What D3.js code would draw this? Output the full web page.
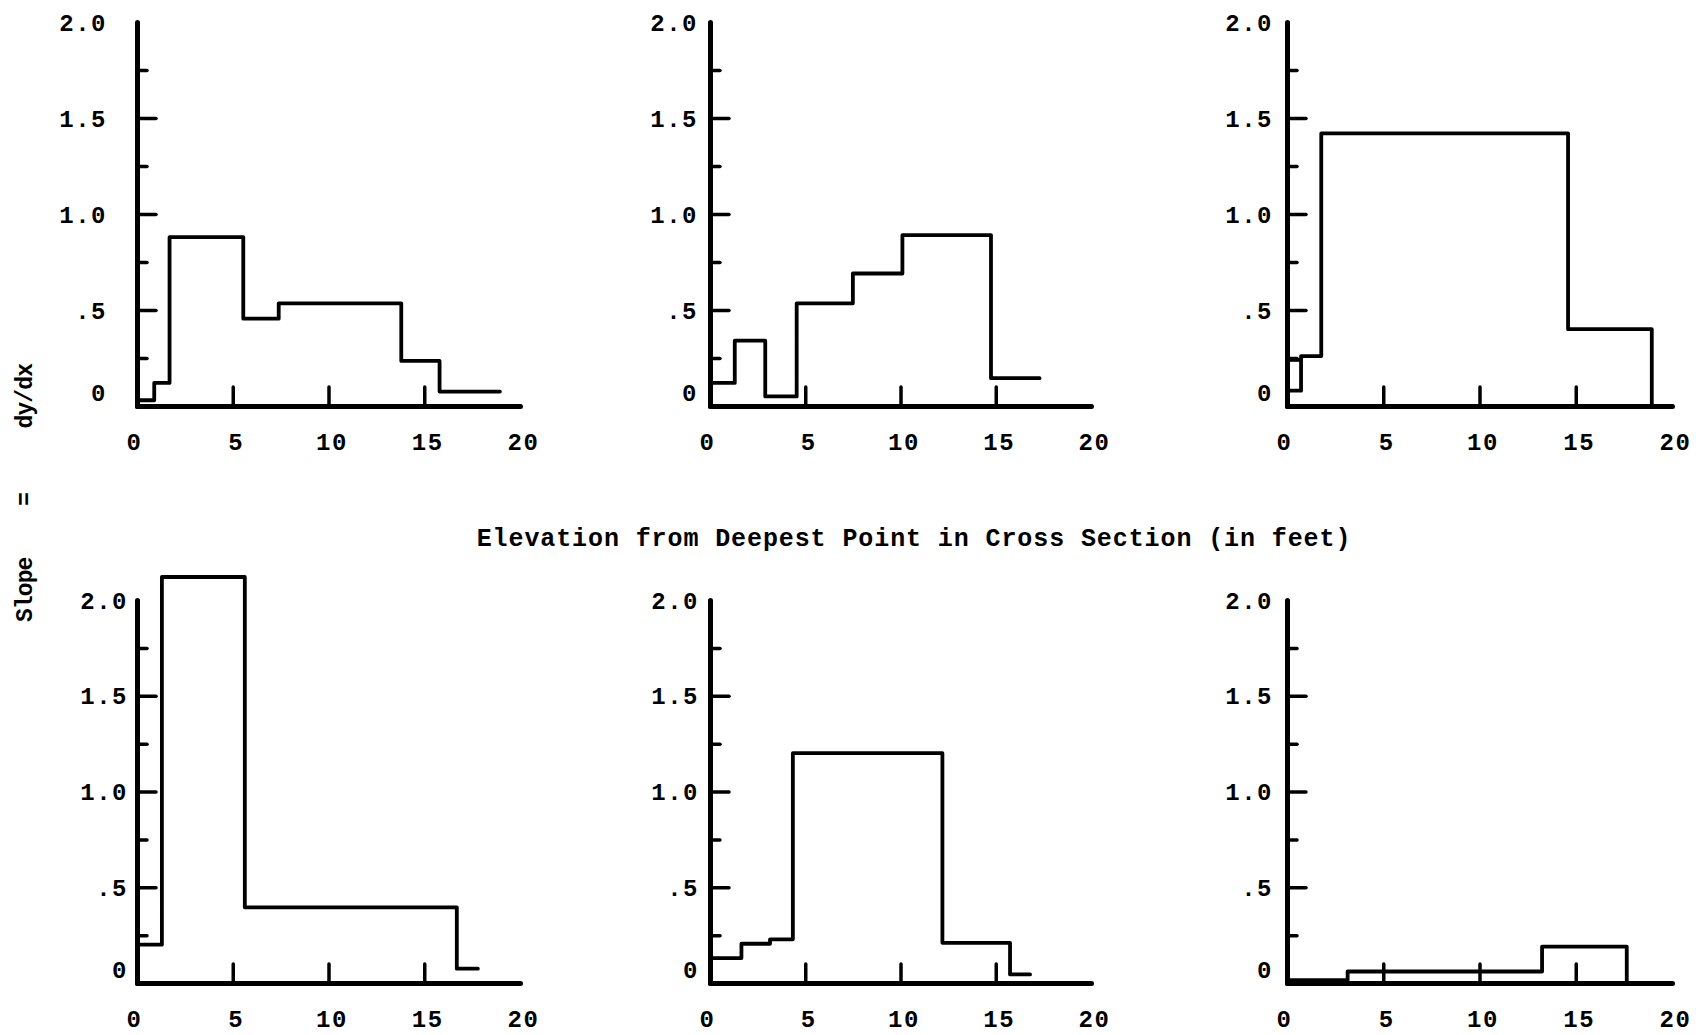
<!DOCTYPE html>
<html>
<head>
<meta charset="utf-8">
<script src="https://cdn.jsdelivr.net/npm/d3@7"></script>
<style>
  html, body { margin: 0; background: #fff; }
  text { font-family: "Liberation Mono", "DejaVu Sans Mono", monospace; font-weight: bold; fill: #000; }
</style>
</head>
<body>
<svg id="fig" width="1696" height="1035"></svg>
<script>
// Axis ticks shared by all six panels
const xTicks = [0, 5, 10, 15, 20];
const yMajor = [0, 0.5, 1.0, 1.5, 2.0];
const yMajorLabels = ["0", ".5", "1.0", "1.5", "2.0"];
const yMinor = [0.25, 0.75, 1.25, 1.75];

// Step profiles: bin edges (elevation, ft) and slope dy/dx within each bin
const edges1 = [0, 0.9, 1.7, 5.55, 7.4, 13.8, 15.8, 18.95];
const slopes1 = [0.03, 0.12, 0.88, 0.455, 0.535, 0.235, 0.075];

const edges2 = [0, 1.3, 2.9, 4.55, 7.5, 10.1, 14.75, 17.3];
const slopes2 = [0.12, 0.34, 0.05, 0.535, 0.69, 0.89, 0.145];

const edges3 = [0, 0.73, 1.78, 14.6, 18.95];
const slopes3 = [0.08, 0.26, 1.42, 0.40];
const cap3 = [[0, 0.24], [0.73, 0.24]];

const edges4 = [0, 1.3, 5.63, 16.7, 17.8];
const slopes4 = [0.2, 2.12, 0.395, 0.075];

const edges5 = [0, 1.65, 3.15, 4.35, 12.2, 15.75, 16.8];
const slopes5 = [0.13, 0.205, 0.228, 1.2, 0.21, 0.045];

const edges6 = [0, 3.15, 13.25, 17.65];
const slopes6 = [0.015, 0.06, 0.19];

const panels = [
  { edges: edges1, slopes: slopes1, drop: false, extra: null },
  { edges: edges2, slopes: slopes2, drop: false, extra: null },
  { edges: edges3, slopes: slopes3, drop: true,  extra: cap3 },
  { edges: edges4, slopes: slopes4, drop: false, extra: null },
  { edges: edges5, slopes: slopes5, drop: false, extra: null },
  { edges: edges6, slopes: slopes6, drop: true,  extra: null }
];

// Panel frames on the page
const frames = [
  { x0: 137,  x1: 520,  yZero: 406, yTop: 22,  gap: 30 },
  { x0: 710,  x1: 1091, yZero: 406, yTop: 22,  gap: 12 },
  { x0: 1287, x1: 1672, yZero: 406, yTop: 22,  gap: 14 },
  { x0: 137,  x1: 520,  yZero: 983, yTop: 600, gap: 9 },
  { x0: 710,  x1: 1091, yZero: 983, yTop: 600, gap: 11 },
  { x0: 1287, x1: 1672, yZero: 983, yTop: 600, gap: 14 }
];

const svg = d3.select("#fig");

panels.forEach((p, i) => {
  const f = frames[i];
  const x = d3.scaleLinear().domain([0, 20]).range([f.x0, f.x1]);
  const y = d3.scaleLinear().domain([0, 2]).range([f.yZero, f.yTop]);
  const g = svg.append("g");

  // x axis: inward ticks at 5, 10, 15; labels 0..20 below
  const gx = g.append("g")
    .attr("transform", `translate(0,${f.yZero})`)
    .call(d3.axisBottom(x).tickValues(xTicks).tickFormat(d3.format("d"))
      .tickSizeInner(-19).tickSizeOuter(0).tickPadding(0));
  gx.select(".domain").attr("stroke", "#000").attr("stroke-width", 5).attr("stroke-linecap", "round");
  gx.selectAll(".tick line").attr("stroke", "#000").attr("stroke-width", 3.5)
    .attr("stroke-linecap", "round")
    .attr("display", d => (d === 0 || d === 20) ? "none" : null);
  gx.selectAll(".tick text")
    .attr("y", 35).attr("dy", "0.36em").attr("dx", d => d === 0 ? -3 : 3)
    .attr("font-size", 24).attr("letter-spacing", 1.5);

  // y axis: major ticks with labels, minor ticks without
  const gy = g.append("g")
    .attr("transform", `translate(${f.x0},0)`)
    .call(d3.axisLeft(y).tickValues(yMajor).tickFormat((d, k) => yMajorLabels[k])
      .tickSizeInner(-19).tickSizeOuter(0).tickPadding(f.gap));
  gy.select(".domain").attr("stroke", "#000").attr("stroke-width", 5).attr("stroke-linecap", "round");
  gy.selectAll(".tick line").attr("stroke", "#000").attr("stroke-width", 3.5)
    .attr("stroke-linecap", "round")
    .attr("display", d => (d === 0 || d === 2) ? "none" : null);
  gy.selectAll(".tick text")
    .attr("font-size", 24).attr("letter-spacing", 1.5)
    .attr("dy", d => d === 0 ? "-0.25em" : "0.34em");

  const gm = g.append("g")
    .attr("transform", `translate(${f.x0},0)`)
    .call(d3.axisLeft(y).tickValues(yMinor).tickFormat("")
      .tickSizeInner(-10).tickSizeOuter(0));
  gm.select(".domain").remove();
  gm.selectAll(".tick line").attr("stroke", "#000").attr("stroke-width", 3.5).attr("stroke-linecap", "round");

  // step profile
  const n = p.slopes.length;
  const pts = p.slopes.map((s, k) => [p.edges[k], s]);
  pts.push([p.edges[n], p.slopes[n - 1]]);
  if (p.drop) pts.push([p.edges[n], 0]);
  const line = d3.line().x(d => x(d[0])).y(d => y(d[1])).curve(d3.curveStepAfter);
  g.append("path").attr("d", line(pts))
    .attr("fill", "none").attr("stroke", "#000").attr("stroke-width", 3.8)
    .attr("stroke-linejoin", "round").attr("stroke-linecap", "round");
  if (p.extra) {
    g.append("path").attr("d", d3.line().x(d => x(d[0])).y(d => y(d[1]))(p.extra))
      .attr("fill", "none").attr("stroke", "#000").attr("stroke-width", 3.8);
  }
});

// shared axis titles
svg.append("text")
  .attr("x", 914).attr("y", 537).attr("dy", "0.35em")
  .attr("text-anchor", "middle").attr("font-size", 25).attr("letter-spacing", 0.9)
  .text("Elevation from Deepest Point in Cross Section (in feet)");

svg.append("text")
  .attr("transform", "translate(24,493) rotate(-90)")
  .attr("dy", "0.35em")
  .attr("text-anchor", "middle").attr("font-size", 23).attr("letter-spacing", -0.9)
  .style("white-space", "pre")
  .text("Slope    =     dy/dx");
</script>
</body>
</html>
